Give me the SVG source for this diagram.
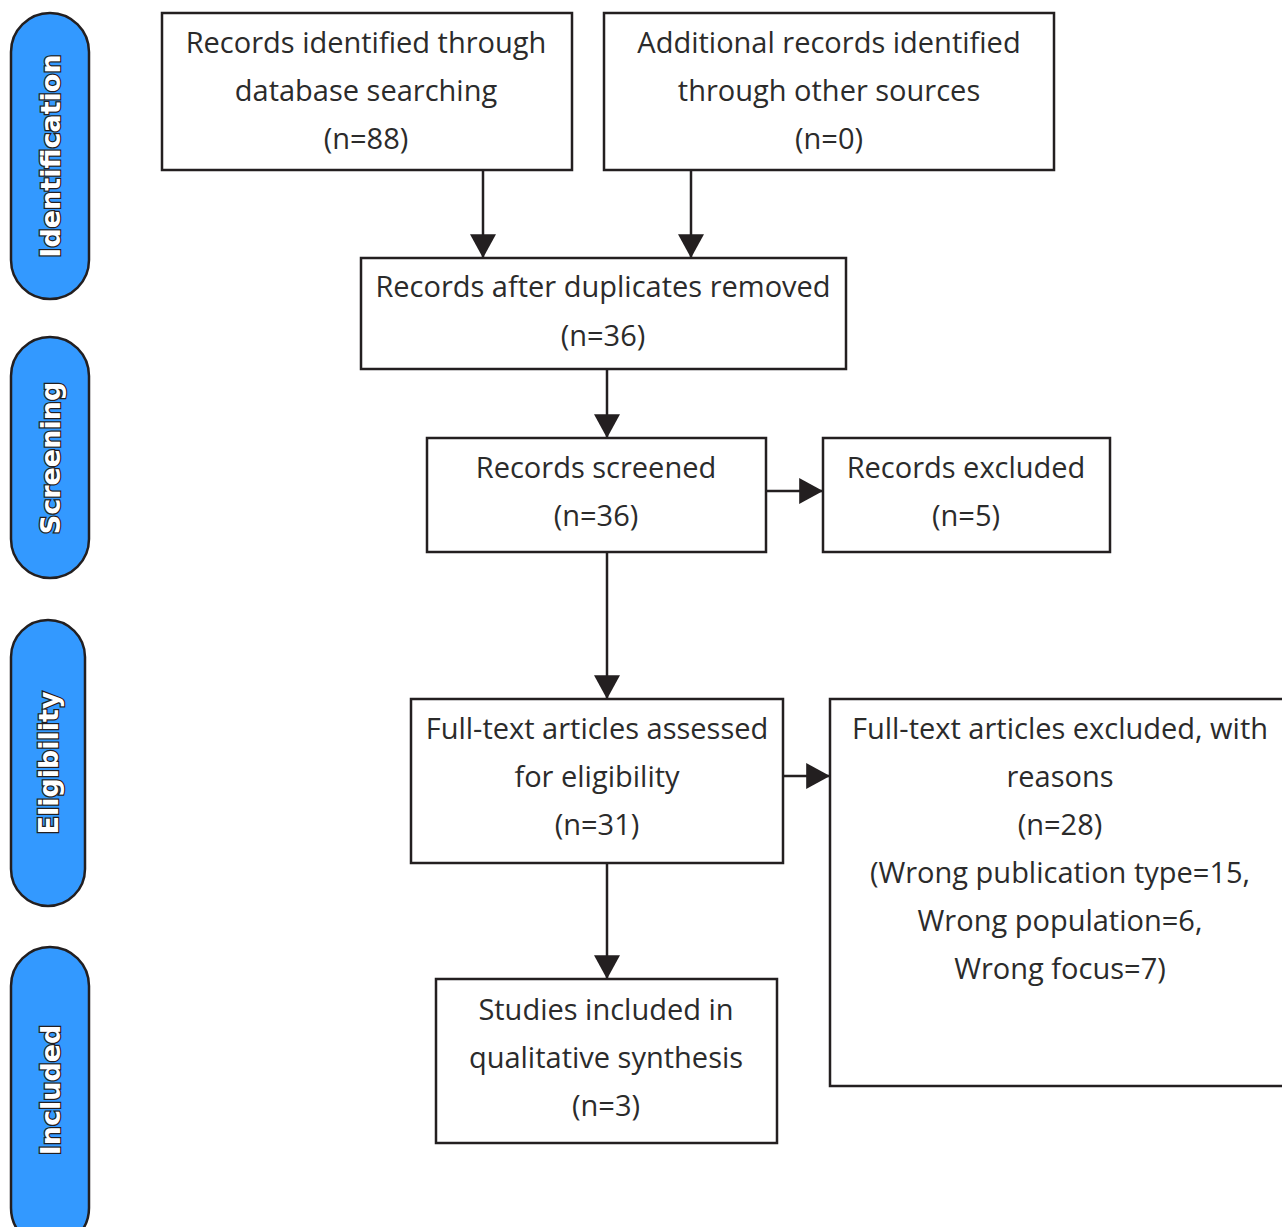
<svg xmlns="http://www.w3.org/2000/svg" width="1282" height="1227" viewBox="0 0 1282 1227">
<style>
.box{fill:#fff;stroke:#231f20;stroke-width:2.5}
.t{font-family:"Open Sans","Noto Sans",sans-serif;font-size:29px;fill:#2b2b2b;text-anchor:middle}
.pill{fill:#3399ff;stroke:#231f20;stroke-width:2.5}
.pt{font-family:"DejaVu Sans",sans-serif;font-weight:bold;font-size:27px;fill:#fff;stroke:#231f20;stroke-width:2.5;paint-order:stroke;text-anchor:middle}
.c{stroke:#231f20;stroke-width:2.5;fill:none;marker-end:url(#ah)}
</style>
<defs>
<marker id="ah" markerUnits="userSpaceOnUse" markerWidth="26" markerHeight="26" viewBox="0 0 22 24" refX="22" refY="12" orient="auto">
<path d="M0,0 L22,12 L0,24 Z" fill="#231f20"/>
</marker>
</defs>
<rect width="1282" height="1227" fill="#fff"/>
<g id="stage-identification"><rect class="pill" x="11" y="13" width="78" height="286" rx="39"/><text class="pt" transform="translate(60,156) rotate(-90)">Identification</text></g>
<g id="stage-screening"><rect class="pill" x="11" y="337" width="78" height="241" rx="39"/><text class="pt" transform="translate(60,458) rotate(-90)">Screening</text></g>
<g id="stage-eligibility"><rect class="pill" x="11" y="620" width="74" height="286" rx="37"/><text class="pt" transform="translate(58,763) rotate(-90)">Eligibility</text></g>
<g id="stage-included"><rect class="pill" x="11" y="947" width="78" height="300" rx="39"/><text class="pt" transform="translate(60,1090) rotate(-90)">Included</text></g>

<g id="connectors">
<line class="c" x1="483" y1="170" x2="483" y2="258"/>
<line class="c" x1="691" y1="170" x2="691" y2="258"/>
<line class="c" x1="607" y1="369" x2="607" y2="438"/>
<line class="c" x1="766" y1="491" x2="823" y2="491"/>
<line class="c" x1="607" y1="552" x2="607" y2="699"/>
<line class="c" x1="783" y1="776" x2="830" y2="776"/>
<line class="c" x1="607" y1="863" x2="607" y2="979"/>
</g>

<g id="n1"><rect class="box" x="162" y="13" width="410" height="157"/>
<text class="t" x="366" y="53">Records identified through</text>
<text class="t" x="366" y="101">database searching</text>
<text class="t" x="366" y="149">(n=88)</text></g>
<g id="n2"><rect class="box" x="604" y="13" width="450" height="157"/>
<text class="t" x="829" y="53">Additional records identified</text>
<text class="t" x="829" y="101">through other sources</text>
<text class="t" x="829" y="149">(n=0)</text></g>
<g id="n3"><rect class="box" x="361" y="258" width="485" height="111"/>
<text class="t" x="603" y="297">Records after duplicates removed</text>
<text class="t" x="603" y="346">(n=36)</text></g>
<g id="n4"><rect class="box" x="427" y="438" width="339" height="114"/>
<text class="t" x="596" y="478">Records screened</text>
<text class="t" x="596" y="526">(n=36)</text></g>
<g id="n5"><rect class="box" x="823" y="438" width="287" height="114"/>
<text class="t" x="966" y="478">Records excluded</text>
<text class="t" x="966" y="526">(n=5)</text></g>
<g id="n6"><rect class="box" x="411" y="699" width="372" height="164"/>
<text class="t" x="597" y="739">Full-text articles assessed</text>
<text class="t" x="597" y="787">for eligibility</text>
<text class="t" x="597" y="835">(n=31)</text></g>
<g id="n7"><rect class="box" x="830" y="699" width="470" height="387"/>
<text class="t" x="1060" y="739">Full-text articles excluded, with</text>
<text class="t" x="1060" y="787">reasons</text>
<text class="t" x="1060" y="835">(n=28)</text>
<text class="t" x="1060" y="883">(Wrong publication type=15,</text>
<text class="t" x="1060" y="931">Wrong population=6,</text>
<text class="t" x="1060" y="979">Wrong focus=7)</text></g>
<g id="n8"><rect class="box" x="436" y="979" width="341" height="164"/>
<text class="t" x="606" y="1020">Studies included in</text>
<text class="t" x="606" y="1068">qualitative synthesis</text>
<text class="t" x="606" y="1116">(n=3)</text></g>
</svg>
